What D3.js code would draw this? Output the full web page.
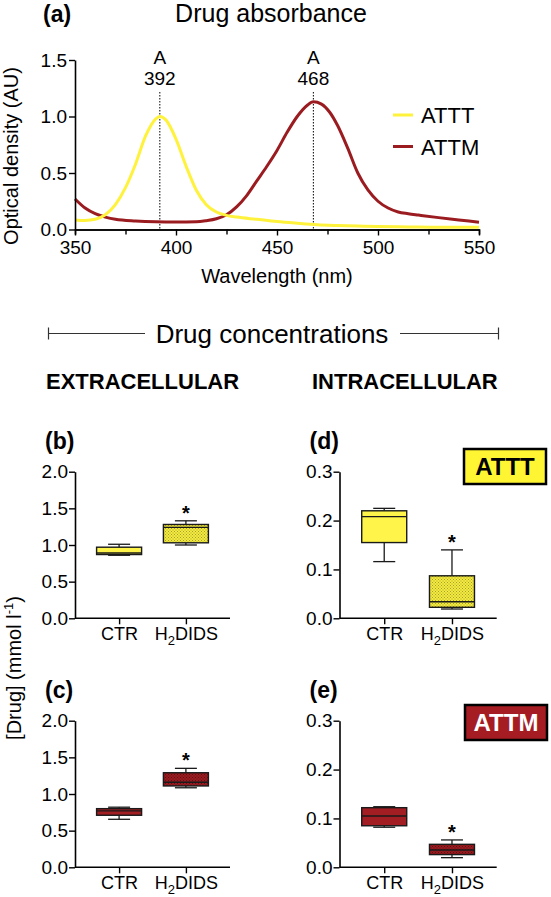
<!DOCTYPE html>
<html><head><meta charset="utf-8">
<script src="https://cdn.jsdelivr.net/npm/d3@7"></script>
<style>
html,body{margin:0;padding:0;background:#fff;}
svg{display:block;font-family:"Liberation Sans",Arial,Helvetica,sans-serif;}
</style></head>
<body>
<svg id="chart" width="551" height="897"></svg>
<script>
// ---------- DATA ----------
const seriesNames = ["ATTT", "ATTM"];
const wlATTT = [350,355,360,365,370,375,380,385,390,392,395,400,405,410,415,420,425,430,440,450,460,470,480,490,500,515,530,550];
const odATTT = [0.085,0.08,0.09,0.13,0.22,0.37,0.58,0.83,0.98,1.0,0.97,0.80,0.56,0.35,0.22,0.155,0.125,0.11,0.09,0.07,0.055,0.042,0.035,0.03,0.026,0.023,0.02,0.02];
const wlATTM = [350,355,360,365,370,380,390,400,410,415,420,425,430,435,440,445,450,455,460,465,468,472,476,480,485,490,495,500,505,510,515,520,530,540,550];
const odATTM = [0.27,0.19,0.14,0.11,0.09,0.075,0.068,0.066,0.068,0.078,0.095,0.13,0.2,0.3,0.43,0.56,0.70,0.86,1.0,1.1,1.13,1.11,1.04,0.92,0.72,0.50,0.35,0.25,0.19,0.155,0.14,0.128,0.105,0.085,0.065];
const peakWavelengths = [392, 468];
const xTicksMajor = [350,400,450,500,550];
const xTicksMinor = [375,425,475,525];
const yTicksOD = [0,0.5,1.0,1.5];

const categories = ["CTR", "H2DIDS"];
// [min, q1, median, q3, max]
const extraATTT = [[0.86,0.87,0.89,0.97,1.01],[1.00,1.03,1.24,1.28,1.33]];
const intraATTT = [[0.116,0.155,0.208,0.22,0.225],[0.019,0.0225,0.034,0.087,0.14]];
const extraATTM = [[0.655,0.71,0.77,0.80,0.82],[1.085,1.11,1.16,1.29,1.35]];
const intraATTM = [[0.082,0.085,0.105,0.122,0.124],[0.0197,0.026,0.0355,0.047,0.056]];
const extraTicks = [0,0.5,1.0,1.5,2.0];
const intraTicks = [0,0.1,0.2,0.3];
const significant = [false, true];

// ---------- STYLE ----------
const YEL = "#FFF23D", YELBOX = "#FFF54A", RED = "#9B1C20", REDBOX = "#A21E23";
const svg = d3.select("#chart");
svg.append("rect").attr("width",551).attr("height",897).attr("fill","#fff");

const defs = svg.append("defs");
function dotPattern(id, base, dot, op){
  const p = defs.append("pattern").attr("id",id).attr("patternUnits","userSpaceOnUse")
    .attr("width",3).attr("height",3);
  p.append("rect").attr("width",3).attr("height",3).attr("fill",base);
  p.append("rect").attr("x",0).attr("y",0).attr("width",1).attr("height",1).attr("fill",dot).attr("opacity",op);
  p.append("rect").attr("x",1.5).attr("y",1.5).attr("width",1).attr("height",1).attr("fill",dot).attr("opacity",op);
}
dotPattern("dotY", "#F2EA3E", "#6b6420", 0.55);
dotPattern("dotR", "#9A1B20", "#3a0507", 0.6);

function styleAxis(g, fs){
  g.selectAll(".domain").attr("stroke","#000").attr("stroke-width",1.6);
  g.selectAll(".tick line").attr("stroke","#000").attr("stroke-width",1.4);
  g.selectAll(".tick text").attr("fill","#000").attr("font-size",fs)
    .attr("font-family","'Liberation Sans',Arial,sans-serif");
}

// ---------- PANEL A ----------
const x = d3.scaleLinear().domain([350,550]).range([75,479]);
const y = d3.scaleLinear().domain([0,1.5]).range([229.5,60]);

svg.append("text").attr("x",43).attr("y",22).attr("font-size",23).attr("font-weight","bold").text("(a)");
svg.append("text").attr("x",271).attr("y",22).attr("text-anchor","middle").attr("font-size",25).text("Drug absorbance");

// dotted peak lines
peakWavelengths.forEach(w=>{
  svg.append("line").attr("x1",x(w)).attr("x2",x(w)).attr("y1",92).attr("y2",y(0))
    .attr("stroke","#000").attr("stroke-width",1).attr("stroke-dasharray","1.5,1.5");
  svg.append("text").attr("x",x(w)).attr("y",63.5).attr("text-anchor","middle").attr("font-size",19).text("A");
  svg.append("text").attr("x",x(w)).attr("y",85).attr("text-anchor","middle").attr("font-size",19).text(w);
});

const line = d3.line().x(d=>x(d[0])).y(d=>y(d[1])).curve(d3.curveMonotoneX);
svg.append("path").datum(wlATTM.map((w,i)=>[w,odATTM[i]])).attr("d",line)
  .attr("fill","none").attr("stroke",RED).attr("stroke-width",3);
svg.append("path").datum(wlATTT.map((w,i)=>[w,odATTT[i]])).attr("d",line)
  .attr("fill","none").attr("stroke",YEL).attr("stroke-width",3);

const gxMinor = svg.append("g").attr("transform",`translate(0,${y(0)})`)
  .call(d3.axisBottom(x).tickValues(xTicksMinor).tickSize(5).tickFormat(""));
styleAxis(gxMinor,19);
const gx = svg.append("g").attr("transform",`translate(0,${y(0)})`)
  .call(d3.axisBottom(x).tickValues(xTicksMajor).tickSize(6).tickSizeOuter(0).tickPadding(5).tickFormat(d3.format("d")));
styleAxis(gx,19);
const gy = svg.append("g").attr("transform",`translate(${x(350)},0)`)
  .call(d3.axisLeft(y).tickValues(yTicksOD).tickSize(6).tickSizeOuter(0).tickPadding(2).tickFormat(d3.format(".1f")));
styleAxis(gy,19);

svg.append("text").attr("x",277).attr("y",283).attr("text-anchor","middle").attr("font-size",20).text("Wavelength (nm)");
svg.append("text").attr("transform","translate(18,156) rotate(-90)").attr("text-anchor","middle").attr("font-size",20).text("Optical density (AU)");

// legend
const legColors = [YEL, RED];
seriesNames.forEach((n,i)=>{
  const ly = 115 + i*31.5;
  svg.append("line").attr("x1",393).attr("x2",413).attr("y1",ly).attr("y2",ly).attr("stroke",legColors[i]).attr("stroke-width",3);
  svg.append("text").attr("x",421).attr("y",ly+8).attr("font-size",22).text(n);
});

// ---------- HEADER ----------
const hy = 333.5;
svg.append("line").attr("x1",48.5).attr("x2",145).attr("y1",hy).attr("y2",hy).attr("stroke","#333").attr("stroke-width",1.2);
svg.append("line").attr("x1",48.5).attr("x2",48.5).attr("y1",hy-6).attr("y2",hy+6).attr("stroke","#333").attr("stroke-width",1.2);
svg.append("line").attr("x1",400).attr("x2",498.5).attr("y1",hy).attr("y2",hy).attr("stroke","#333").attr("stroke-width",1.2);
svg.append("line").attr("x1",498.5).attr("x2",498.5).attr("y1",hy-6).attr("y2",hy+6).attr("stroke","#333").attr("stroke-width",1.2);
svg.append("text").attr("x",272).attr("y",343).attr("text-anchor","middle").attr("font-size",26).text("Drug concentrations");
svg.append("text").attr("x",46).attr("y",389).attr("font-size",22).attr("font-weight","bold").text("EXTRACELLULAR");
svg.append("text").attr("x",312).attr("y",389).attr("font-size",22).attr("font-weight","bold").text("INTRACELLULAR");

// ---------- BOX PANELS ----------
const panels = [
  {lab:"(b)", data:extraATTT, ticks:extraTicks, max:2, x0:75, x1:230, yt:471.7, yb:618.3, fill:YELBOX, pat:"url(#dotY)", fmt:".1f"},
  {lab:"(d)", data:intraATTT, ticks:intraTicks, max:0.3, x0:339.5, x1:496.7, yt:471.7, yb:618.3, fill:YELBOX, pat:"url(#dotY)", fmt:".1f"},
  {lab:"(c)", data:extraATTM, ticks:extraTicks, max:2, x0:75, x1:230, yt:720.7, yb:867.3, fill:REDBOX, pat:"url(#dotR)", fmt:".1f"},
  {lab:"(e)", data:intraATTM, ticks:intraTicks, max:0.3, x0:339.5, x1:496.7, yt:720.7, yb:867.3, fill:REDBOX, pat:"url(#dotR)", fmt:".1f"}
];

panels.forEach(p=>{
  const g = svg.append("g");
  const xs = d3.scalePoint().domain(categories).range([p.x0,p.x1]).padding(0.66);
  const ys = d3.scaleLinear().domain([0,p.max]).range([p.yb,p.yt]);
  g.append("text").attr("x",p.x0-30).attr("y",p.yt-23).attr("font-size",23).attr("font-weight","bold").text(p.lab);

  const bw = 45, cw = 22;
  p.data.forEach((d,i)=>{
    const cx = xs(categories[i]);
    const [mn,q1,md,q3,mx] = d;
    const st = "#1a1a1a";
    g.append("line").attr("x1",cx).attr("x2",cx).attr("y1",ys(mx)).attr("y2",ys(q3)).attr("stroke",st).attr("stroke-width",1.3);
    g.append("line").attr("x1",cx).attr("x2",cx).attr("y1",ys(q1)).attr("y2",ys(mn)).attr("stroke",st).attr("stroke-width",1.3);
    g.append("line").attr("x1",cx-cw/2).attr("x2",cx+cw/2).attr("y1",ys(mx)).attr("y2",ys(mx)).attr("stroke",st).attr("stroke-width",1.3);
    g.append("line").attr("x1",cx-cw/2).attr("x2",cx+cw/2).attr("y1",ys(mn)).attr("y2",ys(mn)).attr("stroke",st).attr("stroke-width",1.3);
    g.append("rect").attr("x",cx-bw/2).attr("y",ys(q3)).attr("width",bw).attr("height",Math.max(1,ys(q1)-ys(q3)))
      .attr("fill", i===0 ? p.fill : p.pat).attr("stroke",st).attr("stroke-width",1.4);
    g.append("line").attr("x1",cx-bw/2).attr("x2",cx+bw/2).attr("y1",ys(md)).attr("y2",ys(md)).attr("stroke",st).attr("stroke-width",1.4);
    if(significant[i]){
      g.append("text").attr("x",cx).attr("y",ys(mx)-1).attr("text-anchor","middle").attr("font-size",20).attr("font-weight","bold").text("*");
    }
  });

  const ax = g.append("g").attr("transform",`translate(0,${p.yb})`)
    .call(d3.axisBottom(xs).tickSize(6).tickSizeOuter(0).tickPadding(3));
  ax.select(".domain").attr("d",`M${p.x0},0H${p.x1}`);
  styleAxis(ax,18);
  ax.selectAll(".tick text").each(function(d){
    if(d==="H2DIDS"){
      const t = d3.select(this); t.text("");
      t.append("tspan").text("H");
      t.append("tspan").attr("font-size",13).attr("dy",5).text("2");
      t.append("tspan").attr("dy",-5).text("DIDS");
    }
  });
  const ay = g.append("g").attr("transform",`translate(${p.x0},0)`)
    .call(d3.axisLeft(ys).tickValues(p.ticks).tickSize(6).tickSizeOuter(0).tickPadding(1).tickFormat(d3.format(p.fmt)));
  styleAxis(ay,19);
});

// drug labels
svg.append("rect").attr("x",464).attr("y",449).attr("width",82).attr("height",35).attr("fill","#FFF533").attr("stroke","#000").attr("stroke-width",2.5);
svg.append("text").attr("x",505).attr("y",475).attr("text-anchor","middle").attr("font-size",24).attr("font-weight","bold").text(seriesNames[0]);
svg.append("rect").attr("x",465).attr("y",705).attr("width",82).attr("height",35).attr("fill","#A51C22").attr("stroke","#000").attr("stroke-width",2.5);
svg.append("text").attr("x",506).attr("y",731).attr("text-anchor","middle").attr("font-size",24).attr("font-weight","bold").attr("fill","#fff").text(seriesNames[1]);

// shared y label
const yl = svg.append("text").attr("transform","translate(21,668) rotate(-90)").attr("text-anchor","middle").attr("font-size",20);
yl.append("tspan").text("[Drug] (mmol l");
yl.append("tspan").attr("font-size",13).attr("dy",-8).text("-1");
yl.append("tspan").attr("dy",8).text(")");
</script>
</body></html>
